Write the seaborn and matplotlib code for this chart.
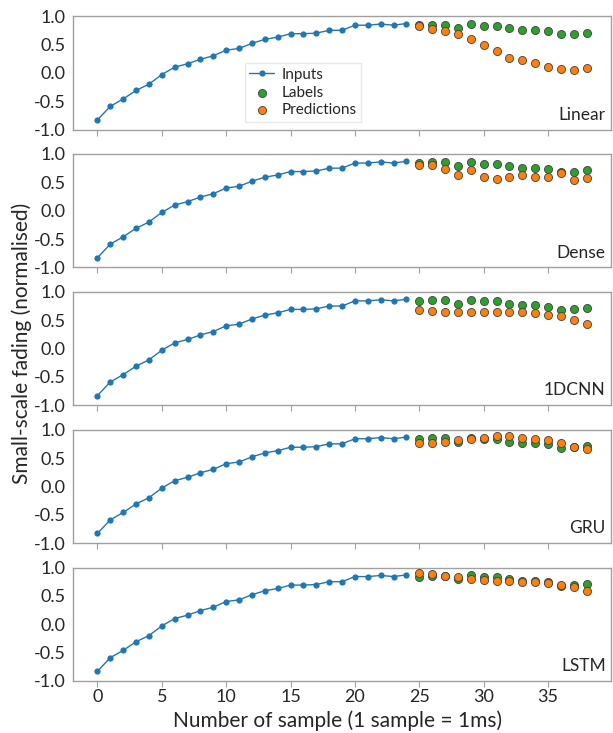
import numpy as np
import pandas as pd
import matplotlib.pyplot as plt
import seaborn as sns

sns.set_style('white')
plt.rcParams['font.family'] = ['Lato', 'DejaVu Sans']
plt.rcParams['axes.unicode_minus'] = False

# input window (samples 0..24), same for every model
input_x = list(range(25))
input_y = [-0.83, -0.59, -0.46, -0.31, -0.20, -0.03, 0.10, 0.16, 0.24, 0.30,
           0.40, 0.43, 0.52, 0.59, 0.63, 0.69, 0.69, 0.70, 0.75, 0.75,
           0.84, 0.84, 0.86, 0.84, 0.87]

# forecast horizon (samples 25..38)
target_x = list(range(25, 39))
labels_y = [0.84, 0.85, 0.85, 0.79, 0.86, 0.83, 0.83, 0.79, 0.76, 0.76,
            0.74, 0.68, 0.69, 0.71]

models = ['Linear', 'Dense', '1DCNN', 'GRU', 'LSTM']
pred_linear = [0.82, 0.77, 0.73, 0.69, 0.60, 0.49, 0.38, 0.27, 0.22, 0.17,
               0.10, 0.06, 0.05, 0.08]
pred_dense = [0.80, 0.80, 0.73, 0.63, 0.72, 0.60, 0.56, 0.60, 0.63, 0.60,
              0.60, 0.67, 0.54, 0.58]
pred_cnn = [0.68, 0.67, 0.65, 0.65, 0.65, 0.65, 0.65, 0.64, 0.64, 0.63,
            0.60, 0.57, 0.51, 0.44]
pred_gru = [0.77, 0.77, 0.79, 0.81, 0.84, 0.85, 0.88, 0.88, 0.86, 0.84,
            0.81, 0.76, 0.70, 0.66]
pred_lstm = [0.91, 0.88, 0.85, 0.83, 0.80, 0.78, 0.76, 0.76, 0.74, 0.74,
             0.73, 0.69, 0.66, 0.59]
predictions = [pred_linear, pred_dense, pred_cnn, pred_gru, pred_lstm]

blue = '#1f77b4'
green = '#2ca02c'
orange = '#ff7f0e'
spine_col = '#a0a0a0'

fig, axes = plt.subplots(5, 1, figsize=(6.13, 7.33), dpi=100, sharex=True)
plt.subplots_adjust(left=0.119, right=0.997, top=0.978, bottom=0.071, hspace=0.215)

inputs_df = pd.DataFrame({'x': input_x, 'y': input_y})

for i, ax in enumerate(axes):
    sns.lineplot(data=inputs_df, x='x', y='y', ax=ax, color=blue, marker='o',
                 markersize=4.5, markeredgewidth=0, linewidth=1, label='Inputs')
    lab_df = pd.DataFrame({'x': target_x, 'y': labels_y})
    sns.scatterplot(data=lab_df, x='x', y='y', ax=ax, color=green, s=34,
                    edgecolor='#404040', linewidth=0.6, label='Labels', zorder=3)
    pred_df = pd.DataFrame({'x': target_x, 'y': predictions[i]})
    sns.scatterplot(data=pred_df, x='x', y='y', ax=ax, color=orange, s=34,
                    edgecolor='#404040', linewidth=0.6, label='Predictions', zorder=4)

    ax.set_ylim(-1, 1)
    ax.set_yticks([-1.0, -0.5, 0.0, 0.5, 1.0])
    ax.set_yticklabels(['-1.0', '-0.5', '0.0', '0.5', '1.0'])
    ax.set_xticks([0, 5, 10, 15, 20, 25, 30, 35])
    ax.set_xlabel('')
    ax.set_ylabel('')
    ax.tick_params(axis='x', bottom=True, length=4, color=spine_col, labelsize=13, pad=2)
    ax.tick_params(axis='y', left=False, labelsize=13, pad=2)
    for sp in ax.spines.values():
        sp.set_color(spine_col)
        sp.set_linewidth(1.0)
    ax.text(0.99, 0.06, models[i], transform=ax.transAxes, ha='right', va='bottom',
            fontsize=12.5)

    if i == 0:
        ax.legend(loc='lower left', bbox_to_anchor=(0.305, 0.0), fontsize=11,
                  handlelength=1.6, handletextpad=0.5, labelspacing=0.25,
                  borderpad=0.3, frameon=True, fancybox=False,
                  edgecolor='#e8e8e8', framealpha=1)
    else:
        ax.get_legend().remove()

axes[-1].set_xlim(-1.9, 39.9)
fig.text(0.018, 0.532, 'Small-scale fading (normalised)', rotation=90,
         ha='left', va='center', fontsize=15)
fig.text(0.551, 0.003, 'Number of sample (1 sample = 1ms)', ha='center',
         va='bottom', fontsize=15)

plt.savefig('out.png', dpi=100)
plt.close('all')
